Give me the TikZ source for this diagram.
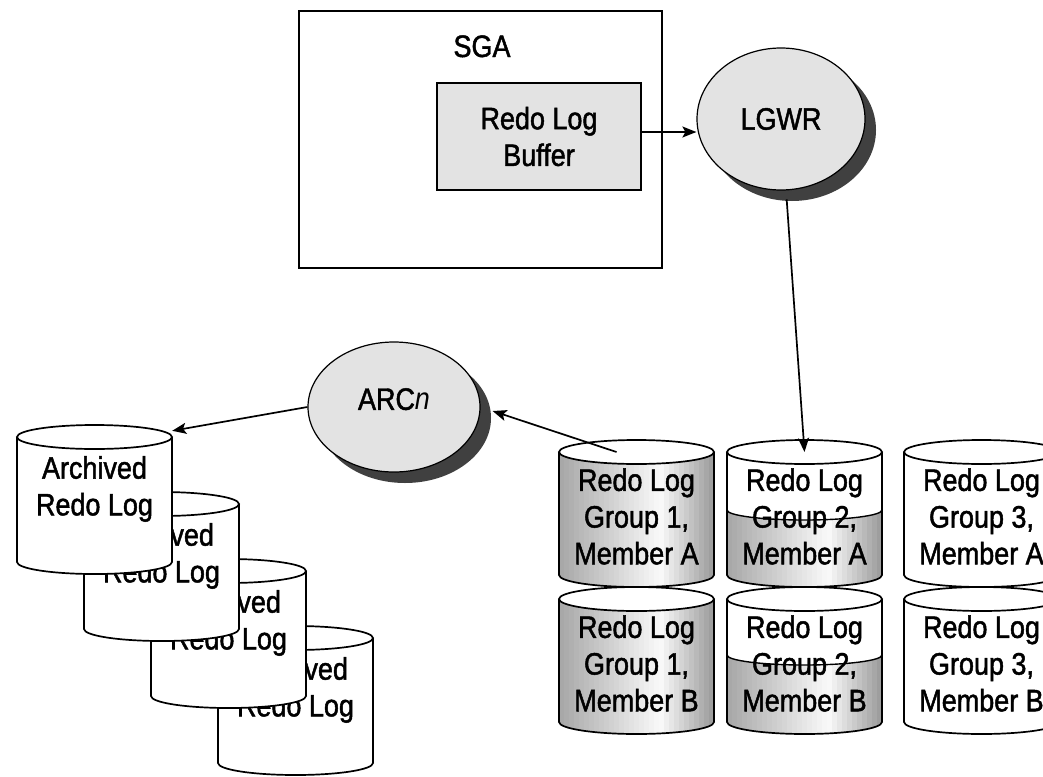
\documentclass[tikz,border=0pt]{standalone}
\usepackage{fontspec}
\setmainfont{Liberation Sans}[FakeStretch=0.87, BoldFont=Liberation Sans,
  BoldItalicFont=Liberation Sans Italic, BoldFeatures={FakeBold=1.5}]
\usetikzlibrary{arrows.meta,shadows,shapes.geometric}

\tikzset{
  proc/.style={ellipse, draw, line width=1.2pt, fill=black!11, inner sep=0pt,
    drop shadow={shadow xshift=11pt, shadow yshift=-11pt, fill=black!75, opacity=1}},
  membox/.style={rectangle, draw, line width=1.8pt, inner sep=0pt},
  disk frame/.style={rectangle, inner sep=0pt, minimum width=155pt},
  disk text/.style={align=center, inner sep=0pt},
  flow/.style={line width=1.7pt, -{Stealth[length=14pt,width=11pt,inset=3pt]}},
}

% one log file drawn as a disk: name, left, top, height, fill level, shade (0 = white, 1 = grey)
\newcommand{\logdisk}[6]{%
  \fill[white] (#2,#3+12) -- (#2,#3+#4-12)
    arc[start angle=180, end angle=0, x radius=77.5, y radius=12] -- (#2+155,#3+12) -- cycle;
  \begin{scope}
    \clip (#2,#3+#5) arc[start angle=180, end angle=0, x radius=77.5, y radius=10]
      -- (#2+155,#3+#4-12) arc[start angle=0, end angle=180, x radius=77.5, y radius=12] -- cycle;
    \foreach \i in {0,...,31} {
      \pgfmathsetmacro\shadev{#6*ifthenelse(\i/31<0.64, 34-50*\i/31, 2+110*(\i/31-0.64))}
      \fill[black!\shadev] (#2+\i*5-0.5,#3) rectangle (#2+\i*5+5.5,#3+#4);
    }
  \end{scope}
  \draw[line width=1.4pt] (#2,#3+#5) arc[start angle=180, end angle=0, x radius=77.5, y radius=10];
  \draw[line width=1.7pt] (#2,#3+12) -- (#2,#3+#4-12)
    arc[start angle=180, end angle=0, x radius=77.5, y radius=12] -- (#2+155,#3+12);
  \draw[line width=1.7pt, fill=white] (#2+77.5,#3+12) ellipse[x radius=77.5, y radius=12];
  \node[disk frame, minimum height=#4] (#1) at (#2+77.5,#3+#4/2) {};
  \coordinate (#1-top) at (#2+77.5,#3+12);
}

\begin{document}
\begin{tikzpicture}[x=1pt, y=-1pt, every node/.style={font=\fontsize{31}{36.7}\selectfont\bfseries}]
\useasboundingbox (0,0) rectangle (1043,776);
\clip (0,0) rectangle (1043,776);

% SGA with the log buffer
\node[membox, minimum width=363pt, minimum height=257pt] (sga) at (480.5,139.5) {};
\node[anchor=base] (sgatitle) at (482,57) {SGA};
\node[membox, fill=black!11, align=center, minimum width=204pt, minimum height=107pt]
  (buffer) at (539,136.5) {Redo Log\\Buffer};

% background processes
\node[proc, minimum width=168pt, minimum height=142pt] (lgwr) at (781,119) {LGWR};
\node[proc, minimum width=172pt, minimum height=130pt, text depth=16pt] (arcn) at (394,407) {ARC\textit{n}};

% online redo log groups
\logdisk{g1a}{559}{440}{147}{12}{1}
\node[disk text] (g1a-txt) at ([yshift=-3pt]g1a) {Redo Log\\Group 1,\\Member A};
\logdisk{g2a}{727}{440}{147}{70}{1}
\node[disk text] (g2a-txt) at ([yshift=-3pt]g2a) {Redo Log\\Group 2,\\Member A};
\logdisk{g3a}{904}{440}{147}{12}{0}
\node[disk text] (g3a-txt) at ([yshift=-3pt]g3a) {Redo Log\\Group 3,\\Member A};
\logdisk{g1b}{559}{587}{147}{12}{1}
\node[disk text] (g1b-txt) at ([yshift=-3pt]g1b) {Redo Log\\Group 1,\\Member B};
\logdisk{g2b}{727}{587}{147}{68}{1}
\node[disk text] (g2b-txt) at ([yshift=-3pt]g2b) {Redo Log\\Group 2,\\Member B};
\logdisk{g3b}{904}{587}{147}{12}{0}
\node[disk text] (g3b-txt) at ([yshift=-3pt]g3b) {Redo Log\\Group 3,\\Member B};

% archived logs, back to front
\logdisk{arch4}{218}{626}{149}{12}{0}
\node[disk text] (arch4-txt) at ([yshift=10.5pt]arch4) {Archived\\Redo Log};
\logdisk{arch3}{151}{559}{149}{12}{0}
\node[disk text] (arch3-txt) at ([yshift=10.5pt]arch3) {Archived\\Redo Log};
\logdisk{arch2}{84}{492}{149}{12}{0}
\node[disk text] (arch2-txt) at ([yshift=10.5pt]arch2) {Archived\\Redo Log};
\logdisk{arch1}{17}{425}{149}{12}{0}
\node[disk text] (arch1-txt) at ([yshift=10.5pt]arch1) {Archived\\Redo Log};

% flows
\coordinate (bufout) at ([yshift=4.5pt]buffer.east);
\draw[flow] (bufout) -- (bufout -| lgwr.west);
\draw[flow, shorten <=9pt] (lgwr) -- (g2a-top);
\draw[flow] ([xshift=-20pt]g1a-top) -- ([shift={(12pt,-4pt)}]arcn.east);
\draw[flow] (arcn.west) -- ([yshift=-6pt]arch1.north east);
\end{tikzpicture}
\end{document}
